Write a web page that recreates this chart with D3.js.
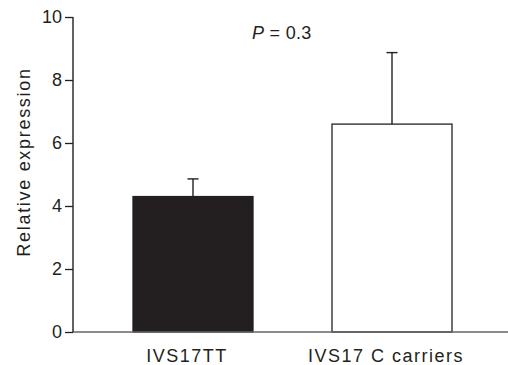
<!DOCTYPE html>
<html>
<head>
<meta charset="utf-8">
<script src="https://cdn.jsdelivr.net/npm/d3@7"></script>
<style>
  body { margin: 0; background: #fff; }
  text { font-family: "Liberation Sans", Arial, sans-serif; fill: #231f20; }
</style>
</head>
<body>
<div id="chart"></div>
<script>
const groups = ["IVS17TT", "IVS17 C carriers"];
const means = [4.3, 6.6];
const errors = [0.56, 2.27];
const yTicks = [0, 2, 4, 6, 8, 10];
const pLabel = "0.3";

const W = 508, H = 365;
const margin = { top: 17, right: 0, bottom: 33, left: 73 };

const svg = d3.select("#chart").append("svg")
  .attr("width", W).attr("height", H);

const y = d3.scaleLinear().domain([0, 10]).range([332, 17]);
const x = d3.scaleBand().domain(groups).range([133, 452]).paddingInner(0.397).paddingOuter(0);

// bars
svg.selectAll("rect.bar").data(groups).enter().append("rect")
  .attr("class", "bar")
  .attr("x", d => x(d))
  .attr("width", x.bandwidth())
  .attr("y", (d, i) => y(means[i]))
  .attr("height", (d, i) => y(0) - y(means[i]))
  .attr("fill", (d, i) => i === 0 ? "#231f20" : "#fff")
  .attr("stroke", "#231f20")
  .attr("stroke-width", 1.3);

// error bars (upper only)
groups.forEach((g, i) => {
  const cx = x(g) + x.bandwidth() / 2;
  svg.append("line")
    .attr("x1", cx).attr("x2", cx)
    .attr("y1", y(means[i])).attr("y2", y(means[i] + errors[i]))
    .attr("stroke", "#231f20").attr("stroke-width", 1.4);
  svg.append("line")
    .attr("x1", cx - 5.5).attr("x2", cx + 5.5)
    .attr("y1", y(means[i] + errors[i])).attr("y2", y(means[i] + errors[i]))
    .attr("stroke", "#231f20").attr("stroke-width", 1.4);
});

// x baseline
svg.append("line")
  .attr("x1", margin.left).attr("x2", W)
  .attr("y1", y(0)).attr("y2", y(0))
  .attr("stroke", "#666").attr("stroke-width", 1.5);

// y axis
const yAxis = svg.append("g")
  .attr("transform", `translate(${margin.left},0)`)
  .call(d3.axisLeft(y).tickValues(yTicks).tickSize(8).tickPadding(3).tickFormat(d3.format("d")));
yAxis.select(".domain").attr("stroke", "#231f20").attr("stroke-width", 1.4).attr("d", `M0,${y(0)}V${y(10)}`);
yAxis.selectAll(".tick line").attr("stroke", "#231f20").attr("stroke-width", 1.3);
yAxis.selectAll(".tick text").attr("font-size", 18).attr("font-family", "Liberation Sans, Arial, sans-serif").attr("fill", "#231f20");

// x labels
svg.selectAll("text.xlab").data(groups).enter().append("text")
  .attr("class", "xlab")
  .attr("x", d => x(d) + x.bandwidth() / 2 - 6)
  .attr("y", 362)
  .attr("text-anchor", "middle")
  .attr("font-size", 18)
  .attr("letter-spacing", 1.5)
  .text(d => d);

// y label
svg.append("text")
  .attr("transform", "translate(30,162) rotate(-90)")
  .attr("text-anchor", "middle")
  .attr("font-size", 18)
  .attr("letter-spacing", 1.7)
  .text("Relative expression");

// P value
const p = svg.append("text")
  .attr("x", 252).attr("y", 39)
  .attr("font-size", 18)
  .attr("letter-spacing", 0.3);
p.append("tspan").attr("font-style", "italic").text("P");
p.append("tspan").text(" = " + pLabel);
</script>
</body>
</html>
